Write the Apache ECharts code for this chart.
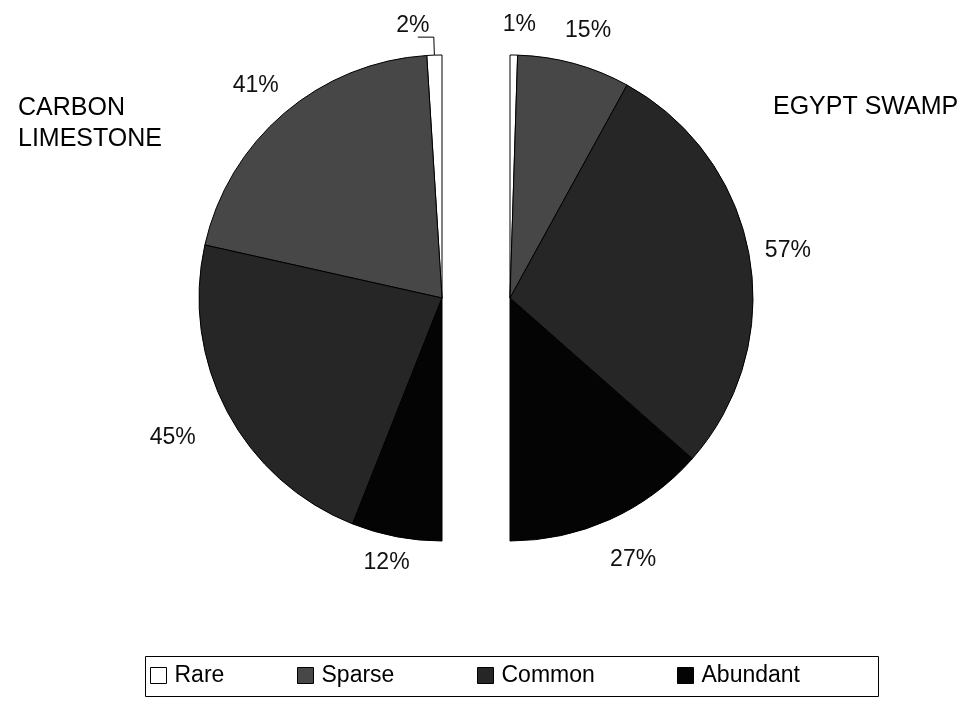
<!DOCTYPE html>
<html>
<head>
<meta charset="utf-8">
<script src="https://cdn.jsdelivr.net/npm/echarts@6/dist/echarts.min.js"></script>
<style>
html, body { margin: 0; padding: 0; background: #fff; }
#chart { width: 971px; height: 705px; }
</style>
</head>
<body>
<div id="chart"></div>
<script>
// abundance classes, same order in both half-pies
const categories = ['Rare', 'Sparse', 'Common', 'Abundant']
const carbonLimestone = [2, 41, 45, 12]
const egyptSwamp = [1, 15, 57, 27]

const colors = ['#ffffff', '#474747', '#262626', '#040404']
// left edge of each legend entry (the original spaces them unevenly)
const legendLefts = [150, 297, 477, 677]

const font = 'Liberation Sans, Arial, sans-serif'

function halfPie (name, values, center, clockwise, lengths) {
  const data = categories.map(function (cat, i) {
    return { name: cat, value: values[i], labelLine: { length: lengths[i] } }
  })
  // only the tiny Rare slice of the left pie gets its bracket line
  if (!clockwise) {
    data[0].labelLine = { show: true, length: 18, length2: 16, lineStyle: { color: '#000', width: 1 } }
  }
  return {
    name: name,
    type: 'pie',
    center: center,
    radius: 243,
    startAngle: 90,
    endAngle: clockwise ? -90 : 270,
    clockwise: clockwise,
    avoidLabelOverlap: false,
    animation: false,
    itemStyle: { borderColor: '#000', borderWidth: 1 },
    label: {
      show: true,
      position: 'outside',
      formatter: '{c}%',
      color: '#111',
      fontFamily: font,
      fontSize: 23
    },
    labelLine: { show: false, length: 34, length2: 0 },
    labelLayout: function (p) {
      if (!clockwise && p.dataIndex === 0) {
        return { align: 'center', verticalAlign: 'bottom' }
      }
      return { align: 'center', verticalAlign: 'middle' }
    },
    emphasis: { disabled: true },
    data: data
  }
}

// one legend per entry so each can sit where the original has it
const legends = categories.map(function (cat, i) {
  return {
    left: legendLefts[i],
    top: 664,
    padding: 0,
    itemWidth: 16,
    itemHeight: 16,
    icon: 'rect',
    selectedMode: false,
    itemStyle: { borderColor: '#000', borderWidth: 1 },
    textStyle: { fontFamily: font, fontSize: 23, color: '#000', padding: [0, 0, 0, 3] },
    data: [cat]
  }
})

const chart = echarts.init(document.getElementById('chart'))
chart.setOption({
  color: colors,
  title: [
    {
      text: 'CARBON\nLIMESTONE',
      left: 13,
      top: 88,
      textStyle: { fontFamily: font, fontSize: 25, fontWeight: 'normal', color: '#000', lineHeight: 31 }
    },
    {
      text: 'EGYPT SWAMP',
      left: 768,
      top: 90,
      textStyle: { fontFamily: font, fontSize: 25, fontWeight: 'normal', color: '#000' }
    }
  ],
  legend: legends,
  graphic: [
    {
      type: 'rect',
      shape: { x: 145.5, y: 656.5, width: 733, height: 40 },
      style: { fill: null, stroke: '#000', lineWidth: 1 },
      silent: true
    }
  ],
  series: [
    halfPie('CARBON LIMESTONE', carbonLimestone, [442, 298], false, [18, 36, 56, 26]),
    halfPie('EGYPT SWAMP', egyptSwamp, [510, 298], true, [30, 34, 34, 44])
  ]
})
</script>
</body>
</html>
